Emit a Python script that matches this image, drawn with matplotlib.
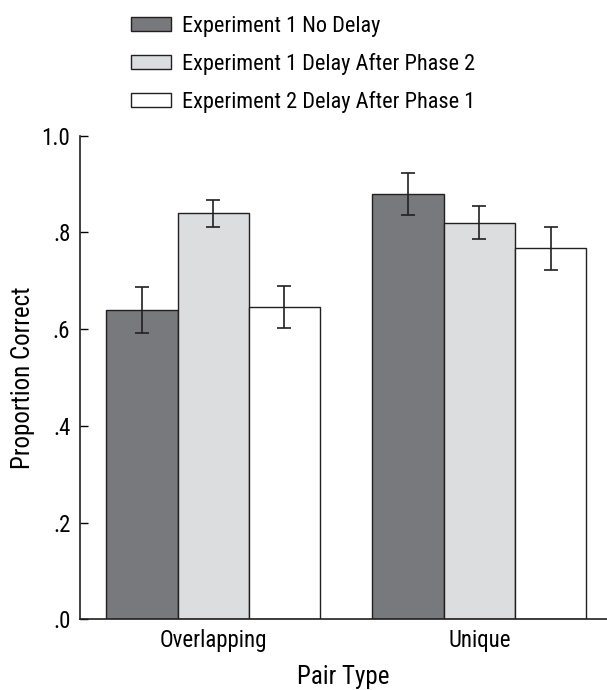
import matplotlib
matplotlib.use("Agg")
import matplotlib.pyplot as plt
from matplotlib import font_manager
import numpy as np

# Data
pair_types = ["Overlapping", "Unique"]
conditions = [
    "Experiment 1 No Delay",
    "Experiment 1 Delay After Phase 2",
    "Experiment 2 Delay After Phase 1",
]
no_delay = [0.640, 0.880]
delay_phase2 = [0.840, 0.820]
delay_phase1 = [0.646, 0.767]
err_no_delay = [0.048, 0.043]
err_delay_phase2 = [0.028, 0.034]
err_delay_phase1 = [0.043, 0.045]

colors = ["#78797c", "#dcdddf", "#ffffff"]

# Pick a narrow font if one is available
names = {f.name for f in font_manager.fontManager.ttflist}
family = "Roboto"
for cand in ["Roboto Condensed", "Liberation Sans Narrow", "Roboto"]:
    if cand in names:
        family = cand
        break
plt.rcParams["font.family"] = [family, "DejaVu Sans"]

fig = plt.figure(figsize=(6.07, 6.90), dpi=100)
ax = fig.add_axes([80 / 607, 70.7 / 690, 527 / 607, 483.6 / 690])

x = np.arange(len(pair_types))
w = 0.2677
series = [
    (no_delay, err_no_delay),
    (delay_phase2, err_delay_phase2),
    (delay_phase1, err_delay_phase1),
]
for i, (vals, errs) in enumerate(series):
    pos = x + (i - 1) * w
    ax.bar(pos, vals, width=w, color=colors[i], edgecolor="#231f20",
           linewidth=1.0, label=conditions[i], zorder=2)
    ax.errorbar(pos, vals, yerr=errs, fmt="none", ecolor="#231f20",
                elinewidth=1.2, capsize=4.7, capthick=1.2, zorder=3)

ax.set_xlim(-0.501, 1.48)
ax.set_ylim(0, 1.0)
ax.set_yticks([0, 0.2, 0.4, 0.6, 0.8, 1.0])
ax.set_yticklabels([".0", ".2", ".4", ".6", ".8", "1.0"])
ax.set_xticks(x)
ax.set_xticklabels(pair_types)
ax.tick_params(axis="y", direction="in", length=6, width=1.0, labelsize=16.5, pad=7)
ax.tick_params(axis="x", length=0, labelsize=16.5, pad=7)
for s in ["top", "right"]:
    ax.spines[s].set_visible(False)
for s in ["left", "bottom"]:
    ax.spines[s].set_linewidth(1.2)
    ax.spines[s].set_color("#231f20")

ax.set_ylabel("Proportion Correct", fontsize=18, labelpad=5)
ax.set_xlabel("Pair Type", fontsize=18, labelpad=9)

ax.legend(loc="upper left", bbox_to_anchor=(0.19, 1.0), bbox_transform=fig.transFigure,
          frameon=False, fontsize=16, handlelength=1.8, handleheight=0.59,
          handletextpad=0.48, labelspacing=0.72, borderaxespad=0.3)

fig.savefig("out.png", dpi=100)
